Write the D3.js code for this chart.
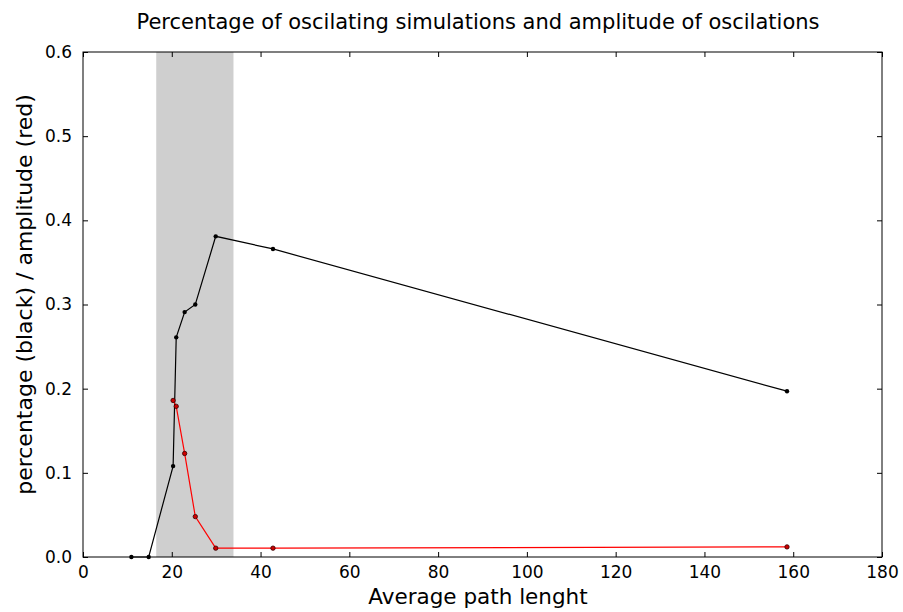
<!DOCTYPE html>
<html><head><meta charset="utf-8">
<script src="https://cdn.jsdelivr.net/npm/d3@7"></script>
<style>body{margin:0;background:#fff}svg{display:block}text{font-family:"DejaVu Sans",sans-serif;fill:#000}</style>
</head><body>
<script>
const blackX = [10.9, 14.8, 20.3, 21.0, 22.9, 25.3, 29.9, 42.8, 158.6];
const blackY = [0.0, 0.0, 0.108, 0.261, 0.291, 0.300, 0.381, 0.366, 0.197];
const redX = [20.3, 21.0, 22.9, 25.3, 29.9, 42.8, 158.6];
const redY = [0.186, 0.179, 0.123, 0.048, 0.0105, 0.0105, 0.012];
const shadeRange = [16.5, 33.9];
const xTicks = [0, 20, 40, 60, 80, 100, 120, 140, 160, 180];
const yTicks = [0.0, 0.1, 0.2, 0.3, 0.4, 0.5, 0.6];
const title = "Percentage of oscilating simulations and amplitude of oscilations";
const xLabel = "Average path lenght";
const yLabel = "percentage (black) / amplitude (red)";

const W = 903, H = 612;
const L = 83, R = 882, T = 52, B = 557;
const svg = d3.select("body").append("svg").attr("width", W).attr("height", H);
const x = d3.scaleLinear().domain([0, 180]).range([L, R]);
const y = d3.scaleLinear().domain([0, 0.6]).range([B, T]);

svg.append("rect").attr("x", x(shadeRange[0])).attr("y", T)
  .attr("width", x(shadeRange[1]) - x(shadeRange[0])).attr("height", B - T)
  .attr("fill", "#cfcfcf");

const fmtY = d3.format(".1f");
const gB = svg.append("g").attr("transform", `translate(0,${B})`)
  .call(d3.axisBottom(x).tickValues(xTicks).tickSize(-5).tickPadding(9).tickFormat(d3.format("d")));
const gT = svg.append("g").attr("transform", `translate(0,${T})`)
  .call(d3.axisTop(x).tickValues(xTicks).tickSize(-5).tickFormat(""));
const gL = svg.append("g").attr("transform", `translate(${L},0)`)
  .call(d3.axisLeft(y).tickValues(yTicks).tickSize(-5).tickPadding(11).tickFormat(fmtY));
const gR = svg.append("g").attr("transform", `translate(${R},0)`)
  .call(d3.axisRight(y).tickValues(yTicks).tickSize(-5).tickFormat(""));
[gB, gT, gL, gR].forEach(g => {
  g.select(".domain").remove();
  g.selectAll(".tick line").attr("stroke", "#000").attr("stroke-width", 1);
  g.selectAll("text").style("font-family", "DejaVu Sans").style("font-size", "17px").attr("fill", "#000");
});
gB.selectAll("text").attr("dy", "0.71em");
svg.append("rect").attr("x", L).attr("y", T).attr("width", R - L).attr("height", B - T)
  .attr("fill", "none").attr("stroke", "#000").attr("stroke-width", 1);

const line = d3.line().x(d => x(d[0])).y(d => y(d[1]));
const blackData = blackX.map((v, i) => [v, blackY[i]]);
const redData = redX.map((v, i) => [v, redY[i]]);

svg.append("path").datum(blackData).attr("d", line).attr("fill", "none").attr("stroke", "#000").attr("stroke-width", 1.2);
svg.append("path").datum(redData).attr("d", line).attr("fill", "none").attr("stroke", "#ff0000").attr("stroke-width", 1.2);
svg.append("g").selectAll("circle").data(blackData).join("circle")
  .attr("cx", d => x(d[0])).attr("cy", d => y(d[1])).attr("r", 2.2).attr("fill", "#000");
svg.append("g").selectAll("circle").data(redData).join("circle")
  .attr("cx", d => x(d[0])).attr("cy", d => y(d[1])).attr("r", 2.2).attr("fill", "#c00").attr("stroke", "#300").attr("stroke-width", 0.8);

svg.append("text").attr("x", 478).attr("y", 29).attr("text-anchor", "middle")
  .style("font-size", "21px").text(title);
svg.append("text").attr("x", 478).attr("y", 604).attr("text-anchor", "middle")
  .style("font-size", "21.5px").text(xLabel);
svg.append("text").attr("transform", `translate(32,${(T + B) / 2 - 10}) rotate(-90)`).attr("text-anchor", "middle")
  .style("font-size", "22px").text(yLabel);
</script>
</body></html>
